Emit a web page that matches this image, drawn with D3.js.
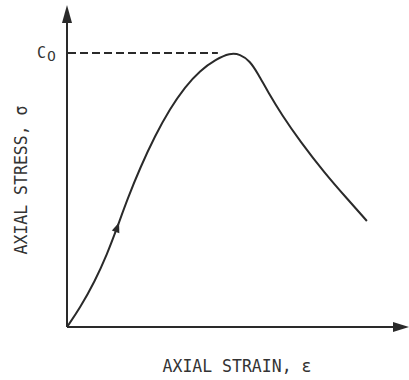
<!DOCTYPE html>
<html>
<head>
<meta charset="utf-8">
<script src="https://cdn.jsdelivr.net/npm/d3@7"></script>
<style>
html,body{margin:0;padding:0;background:#fff;}
svg{display:block;}
text{font-family:"DejaVu Sans Mono","Liberation Mono",monospace;fill:#333;}
</style>
</head>
<body>
<svg id="chart" width="409" height="380"></svg>
<script>
// Normalised strain (x) and stress (y, C0 = 1)
const strain = [0, 0.038, 0.082, 0.118, 0.147, 0.179, 0.215, 0.259, 0.303, 0.347, 0.391, 0.438, 0.479, 0.509, 0.538, 0.562, 0.591, 0.632, 0.685, 0.759, 0.824, 0.882];
const stress = [0, 0.069, 0.167, 0.266, 0.361, 0.471, 0.581, 0.698, 0.797, 0.876, 0.936, 0.977, 1.0, 0.996, 0.971, 0.924, 0.858, 0.774, 0.679, 0.560, 0.468, 0.387];
const peakLabel = ["C", "0"];
const xTitle = "AXIAL STRAIN, \u03b5";
const yTitle = "AXIAL STRESS, \u03c3";
const xMax = 1.0, yMax = 1.175;
const arrowAt = 0.147; // direction arrow on the loading branch

const svg = d3.select("#chart");
const x = d3.scaleLinear().domain([0, 1]).range([67, 407]);
const y = d3.scaleLinear().domain([0, 1]).range([327, 53]);
const ink = "#2a2a2a";

// axes
svg.append("line").attr("x1", x(0)).attr("y1", y(0)).attr("x2", x(0)).attr("y2", y(yMax) + 10)
  .attr("stroke", ink).attr("stroke-width", 2);
svg.append("line").attr("x1", x(0)).attr("y1", y(0)).attr("x2", x(xMax) - 6).attr("y2", y(0))
  .attr("stroke", ink).attr("stroke-width", 2);
// arrow heads
const yt = y(yMax);
svg.append("path").attr("d", `M${x(0)},${yt} L${x(0)-5},${yt+18} L${x(0)+5},${yt+18} Z`).attr("fill", ink);
const xt = x(xMax) + 2;
svg.append("path").attr("d", `M${xt},${y(0)} L${xt-16},${y(0)-5} L${xt-16},${y(0)+5} Z`).attr("fill", ink);

// dashed peak line
const peakIdx = stress.indexOf(d3.max(stress));
svg.append("line").attr("x1", x(0) + 1).attr("y1", y(1)).attr("x2", x(strain[peakIdx]) - 12).attr("y2", y(1))
  .attr("stroke", ink).attr("stroke-width", 2).attr("stroke-dasharray", "8,4");

// curve
const pts = strain.map((s, i) => [s, stress[i]]);
const line = d3.line().x(d => x(d[0])).y(d => y(d[1])).curve(d3.curveBasis);
svg.append("path").datum(pts).attr("d", line).attr("fill", "none")
  .attr("stroke", ink).attr("stroke-width", 2);

// direction arrow on curve
const i0 = strain.indexOf(arrowAt);
const ax = x(strain[i0]), ay = y(stress[i0]);
const ang = Math.atan2(y(stress[i0+1]) - y(stress[i0-1]), x(strain[i0+1]) - x(strain[i0-1])) * 180 / Math.PI;
svg.append("path").attr("d", "M6,0 L-4,-4 L-4,4 Z").attr("fill", ink)
  .attr("transform", `translate(${ax},${ay}) rotate(${ang})`);

// C0 label
const lab = svg.append("text").attr("x", 37).attr("y", 58).attr("font-size", 15);
lab.append("tspan").text(peakLabel[0]);
lab.append("tspan").attr("dy", 3).attr("dx", 1).attr("font-size", 14)
  .style("font-family", "'DejaVu Sans', sans-serif").text(peakLabel[1]);

// titles
svg.append("text").attr("x", 237).attr("y", 372).attr("text-anchor", "middle")
  .attr("font-size", 16.5).attr("transform", "translate(237,372) scale(1,1.1) translate(-237,-372)")
  .text(xTitle);
svg.append("text").attr("transform", "translate(27,180) rotate(-90) scale(1,1.1)")
  .attr("text-anchor", "middle").attr("font-size", 16.5).text(yTitle);
</script>
</body>
</html>
